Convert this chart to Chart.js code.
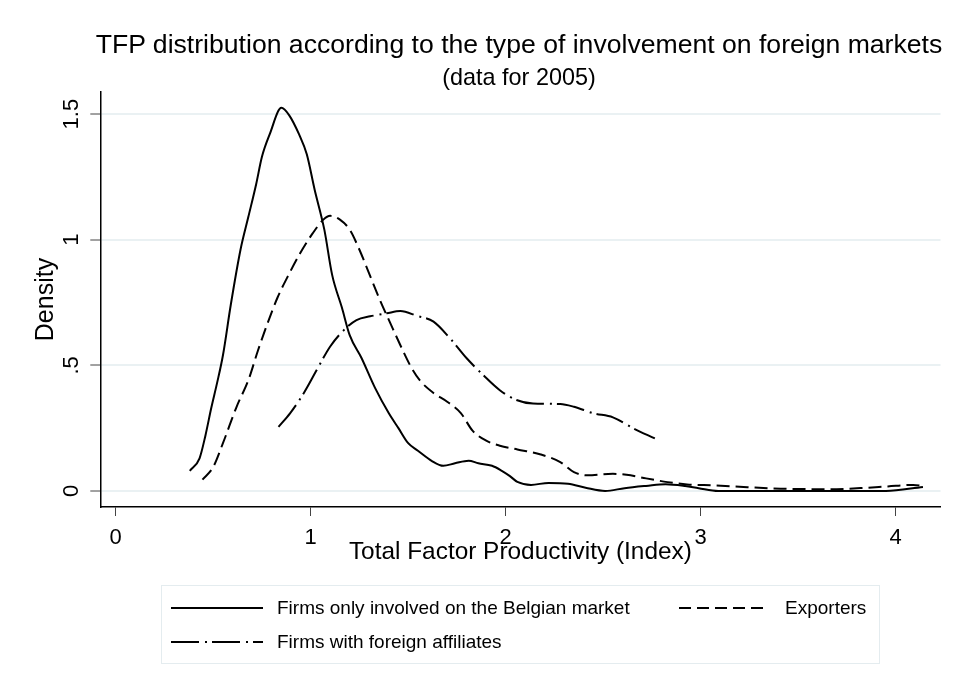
<!DOCTYPE html>
<html>
<head>
<meta charset="utf-8">
<script src="https://cdn.jsdelivr.net/npm/chart.js@4/dist/chart.umd.min.js"></script>
<style>
  body { margin: 0; background: #fff; font-family: "Liberation Sans", Arial, sans-serif; }
  .wrap { position: relative; width: 959px; height: 698px; }
  .title { position: absolute; left: 0; width: 1038px; text-align: center; white-space: nowrap; color: #000; }
  .t1 { top: 29px; font-size: 26.6px; line-height: 30px; }
  .t2 { top: 64px; font-size: 23.4px; line-height: 27px; }
  .legend { position: absolute; left: 161px; top: 585px; width: 717px; height: 77px; border: 1px solid #e4ecef; }
  .item { position: absolute; font-size: 19px; line-height: 22px; color: #000; white-space: nowrap; }
  .sample { position: absolute; }
</style>
</head>
<body>
<div class="wrap">
  <canvas id="tfp-chart"></canvas>
  <div class="title t1">TFP distribution according to the type of involvement on foreign markets</div>
  <div class="title t2">(data for 2005)</div>
  <div class="legend">
    <svg class="sample" style="left:9px;top:20px" width="92" height="4"><line x1="0" y1="2" x2="92" y2="2" stroke="#000" stroke-width="2"/></svg>
    <div class="item" style="left:115px;top:11px">Firms only involved on the Belgian market</div>
    <svg class="sample" style="left:517px;top:20px" width="88" height="4"><line x1="0" y1="2" x2="88" y2="2" stroke="#000" stroke-width="2" stroke-dasharray="12 6"/></svg>
    <div class="item" style="left:623px;top:11px">Exporters</div>
    <svg class="sample" style="left:9px;top:54px" width="92" height="4"><line x1="0" y1="2" x2="92" y2="2" stroke="#000" stroke-width="2" stroke-dasharray="28 6 2 5"/></svg>
    <div class="item" style="left:115px;top:45px">Firms with foreign affiliates</div>
  </div>
</div>
<script>
const FONT = '"Liberation Sans", Arial, sans-serif';

// Kernel density estimates
const belgianX = [0.38, 0.43, 0.46, 0.49, 0.52, 0.55, 0.59, 0.64, 0.68, 0.72, 0.75, 0.79, 0.85, 0.89, 0.94, 0.98, 1.02, 1.07, 1.11, 1.16, 1.2, 1.26, 1.33, 1.4, 1.45, 1.5, 1.55, 1.62, 1.68, 1.74, 1.81, 1.86, 1.93, 1.98, 2.02, 2.06, 2.13, 2.22, 2.32, 2.41, 2.51, 2.61, 2.72, 2.82, 2.92, 2.99, 3.09, 3.5, 3.95, 4.14];
const belgianY = [0.08, 0.13, 0.22, 0.33, 0.43, 0.54, 0.74, 0.96, 1.09, 1.22, 1.33, 1.42, 1.525, 1.495, 1.42, 1.34, 1.2, 1.04, 0.86, 0.73, 0.62, 0.53, 0.41, 0.31, 0.25, 0.19, 0.16, 0.12, 0.1, 0.11, 0.12, 0.11, 0.1, 0.08, 0.06, 0.036, 0.024, 0.032, 0.029, 0.013, 0.0, 0.011, 0.02, 0.027, 0.02, 0.011, 0.0, 0.0, 0.0, 0.016];

const exportX = [0.445, 0.5, 0.55, 0.62, 0.68, 0.73, 0.78, 0.83, 0.88, 0.945, 1.01, 1.065, 1.1, 1.15, 1.2, 1.25, 1.3, 1.355, 1.41, 1.46, 1.51, 1.56, 1.63, 1.7, 1.77, 1.83, 1.9, 1.97, 2.06, 2.18, 2.28, 2.35, 2.42, 2.55, 2.62, 2.72, 2.83, 2.93, 3.07, 3.24, 3.41, 3.66, 3.84, 3.96, 4.09, 4.15];
const exportY = [0.045, 0.095, 0.19, 0.335, 0.44, 0.56, 0.67, 0.77, 0.85, 0.945, 1.025, 1.08, 1.095, 1.08, 1.04, 0.96, 0.865, 0.76, 0.665, 0.58, 0.5, 0.44, 0.39, 0.355, 0.31, 0.24, 0.2, 0.18, 0.165, 0.145, 0.115, 0.075, 0.062, 0.068, 0.064, 0.05, 0.035, 0.026, 0.022, 0.015, 0.009, 0.007, 0.012, 0.018, 0.024, 0.018];

const affilX = [0.835, 0.895, 0.965, 1.03, 1.1, 1.17, 1.235, 1.305, 1.39, 1.46, 1.545, 1.63, 1.715, 1.8, 1.885, 1.97, 2.055, 2.14, 2.28, 2.35, 2.45, 2.55, 2.655, 2.765];
const affilY = [0.255, 0.31, 0.39, 0.48, 0.575, 0.64, 0.68, 0.695, 0.707, 0.716, 0.697, 0.674, 0.607, 0.528, 0.461, 0.401, 0.362, 0.348, 0.346, 0.335, 0.309, 0.293, 0.249, 0.209];

const xTickValues = [0, 1, 2, 3, 4];
const xTickLabels = ["0", "1", "2", "3", "4"];
const yTickValues = [0, 0.5, 1, 1.5];
const yTickLabels = ["0", ".5", "1", "1.5"];

const toPoints = (xs, ys) => xs.map((x, i) => ({ x: x, y: ys[i] }));

const lineSet = (label, xs, ys, dash) => ({
  label: label,
  data: toPoints(xs, ys),
  showLine: true,
  borderColor: "#000",
  borderWidth: 2,
  borderDash: dash,
  pointRadius: 0,
  cubicInterpolationMode: "monotone",
  fill: false,
});

const ctx = document.getElementById("tfp-chart");

new Chart(ctx, {
  type: "scatter",
  data: {
    datasets: [
      lineSet("Firms only involved on the Belgian market", belgianX, belgianY, []),
      lineSet("Exporters", exportX, exportY, [13, 6]),
      lineSet("Firms with foreign affiliates", affilX, affilY, [28, 6, 2, 5]),
    ],
  },
  options: {
    responsive: true,
    maintainAspectRatio: false,
    animation: false,
    layout: { padding: { left: 31, right: 18.5, top: 92, bottom: 131 } },
    plugins: { legend: { display: false }, tooltip: { enabled: false }, title: { display: false } },
    scales: {
      x: {
        type: "linear",
        min: -0.079,
        max: 4.23,
        afterBuildTicks: (s) => { s.ticks = xTickValues.map((v) => ({ value: v })); },
        afterFit: (s) => { s.height = 60; },
        ticks: {
          color: "#000",
          padding: 9,
          maxRotation: 0,
          font: { family: FONT, size: 22 },
          callback: (v) => xTickLabels[xTickValues.indexOf(v)],
        },
        grid: { drawOnChartArea: false, tickColor: "#444", tickLength: 9, tickWidth: 1 },
        border: { color: "#000", width: 1.5 },
        title: { display: true, text: "Total Factor Productivity (Index)", color: "#000", padding: 0, font: { family: FONT, size: 24.4 } },
      },
      y: {
        type: "linear",
        min: -0.064,
        max: 1.588,
        afterBuildTicks: (s) => { s.ticks = yTickValues.map((v) => ({ value: v })); },
        afterFit: (s) => { s.width = 69.3; },
        ticks: {
          color: "#000",
          padding: 3,
          minRotation: 90,
          maxRotation: 90,
          crossAlign: "center",
          font: { family: FONT, size: 22 },
          callback: (v) => yTickLabels[yTickValues.indexOf(v)],
        },
        grid: { color: "#eaf1f3", lineWidth: 2, tickColor: "#444", tickLength: 10, tickWidth: 1 },
        border: { color: "#000", width: 1.5 },
        title: { display: true, text: "Density", color: "#000", padding: 0, font: { family: FONT, size: 25 } },
      },
    },
  },
});
</script>
</body>
</html>
